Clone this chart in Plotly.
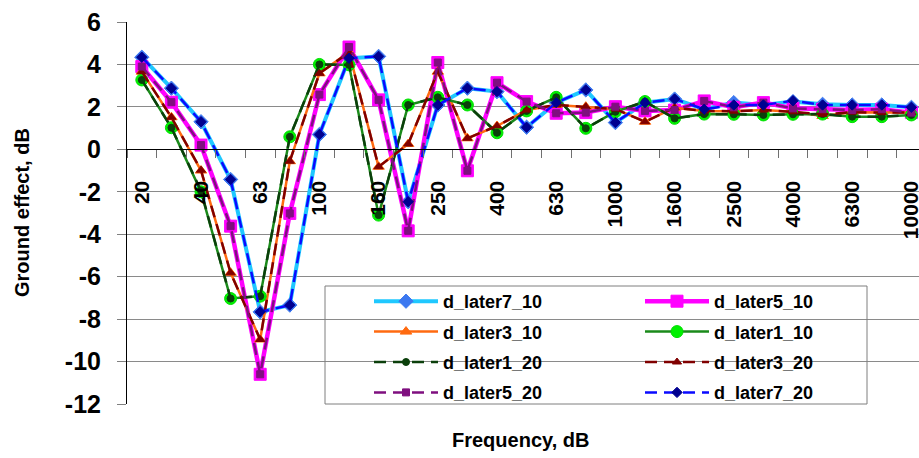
import plotly.graph_objects as go

categories = ["20", "31.5", "40", "50", "63", "80", "100", "125", "160", "200", "250",
              "315", "400", "500", "630", "800", "1000", "1250", "1600", "2000", "2500",
              "3150", "4000", "5000", "6300", "8000", "10000"]
shown_labels = ["20", "40", "63", "100", "160", "250", "400", "630", "1000", "1600",
                "2500", "4000", "6300", "10000"]
y_ticks = [6, 4, 2, 0, -2, -4, -6, -8, -10, -12]

d_later7_10 = [4.34, 2.88, 1.30, -1.42, -7.66, -7.34, 0.70, 4.29, 4.38, -2.47, 2.09, 2.88, 2.72,
               1.04, 2.20, 2.80, 1.26, 2.20, 2.37, 1.89, 2.20, 2.09, 2.25, 2.12, 2.09, 2.09, 1.98]
d_later5_10 = [3.90, 2.22, 0.20, -3.62, -10.60, -3.02, 2.58, 4.82, 2.33, -3.84, 4.09, -1.01, 3.14,
               2.25, 1.70, 1.73, 2.01, 1.81, 1.85, 2.28, 1.98, 2.20, 1.93, 1.89, 1.85, 1.89, 1.73]
d_later3_10 = [3.66, 1.51, -1.00, -5.82, -8.96, -0.56, 3.58, 4.58, -0.82, 0.25, 3.66, 0.52, 1.10,
               1.85, 2.09, 2.01, 1.90, 1.30, 1.96, 1.81, 1.80, 1.85, 1.77, 1.57, 1.75, 1.73, 1.73]
d_later1_10 = [3.27, 1.02, -2.00, -7.03, -6.92, 0.59, 4.00, 3.98, -3.10, 2.09, 2.45, 2.09, 0.78,
               1.81, 2.45, 0.99, 1.77, 2.25, 1.46, 1.66, 1.65, 1.62, 1.65, 1.66, 1.54, 1.54, 1.62]
d_later1_20 = [3.27, 1.02, -1.95, -7.03, -6.92, 0.59, 4.00, 3.98, -3.10, 2.09, 2.45, 2.09, 0.78,
               1.81, 2.45, 0.99, 1.77, 2.25, 1.46, 1.66, 1.65, 1.62, 1.65, 1.66, 1.54, 1.54, 1.62]
d_later3_20 = [3.66, 1.51, -0.98, -5.82, -8.96, -0.56, 3.58, 4.56, -0.82, 0.25, 3.66, 0.52, 1.10,
               1.85, 2.09, 2.01, 1.90, 1.30, 1.96, 1.81, 1.80, 1.85, 1.77, 1.65, 1.75, 1.73, 1.73]
d_later5_20 = [3.90, 2.22, 0.20, -3.62, -10.60, -3.02, 2.58, 4.82, 2.33, -3.84, 4.09, -1.01, 3.14,
               2.25, 1.70, 1.73, 2.01, 1.81, 1.85, 2.28, 1.98, 2.20, 1.93, 1.89, 1.85, 1.89, 1.73]
d_later7_20 = [4.34, 2.88, 1.30, -1.42, -7.66, -7.34, 0.70, 4.29, 4.38, -2.47, 2.09, 2.88, 2.72,
               1.04, 2.20, 2.80, 1.26, 2.20, 2.37, 1.89, 2.09, 2.09, 2.29, 2.09, 2.09, 2.09, 1.98]

series = [
    # name, values, line color, width, dash, symbol, marker size, marker color, marker line color, legend
    ("d_later7_10", d_later7_10, "#1FC8FF", 4, "solid", "diamond", 11, "#3C78F0", "#3C78F0", "legend"),
    ("d_later5_10", d_later5_10, "#FF00FF", 4.5, "solid", "square", 12, "#FF00FF", "#FF00FF", "legend2"),
    ("d_later3_10", d_later3_10, "#FF6A10", 2.5, "solid", "triangle-up", 10, "#FF6A10", "#FF6A10", "legend"),
    ("d_later1_10", d_later1_10, "#1A8A1A", 2.5, "solid", "circle", 12, "#00F000", "#00E000", "legend2"),
    ("d_later1_20", d_later1_20, "#0B3F0B", 2.5, "dash", "circle", 7, "#0B3F0B", "#0B3F0B", "legend"),
    ("d_later3_20", d_later3_20, "#800000", 2.5, "dash", "triangle-up", 8, "#800000", "#800000", "legend2"),
    ("d_later5_20", d_later5_20, "#7F0F7F", 2.5, "dash", "square", 7, "#7F0F7F", "#7F0F7F", "legend"),
    ("d_later7_20", d_later7_20, "#0A0AFF", 2.5, "dash", "diamond", 8, "#000090", "#000090", "legend2"),
]

fig = go.Figure()
for name, vals, lc, lw, dash, sym, ms, mc, mlc, leg in series:
    fig.add_trace(go.Scatter(
        x=categories, y=vals, name=name, mode="lines+markers",
        line=dict(color=lc, width=lw, dash=("12px,7px" if dash == "dash" else "solid")),
        marker=dict(symbol=sym, size=ms, color=mc, line=dict(color=mlc, width=1)),
        legend=leg, legendgroup=name,
    ))

W, H = 919, 458
ML, MR, MT, MB = 127, 0, 22, 54
pw = W - ML - MR
ph = H - MT - MB
cat_w = 29.6
xr = [-0.5, -0.5 + pw / cat_w]


def px_x(p):
    return (p - ML) / pw


def px_y(p):
    return (H - MB - p) / ph


font_family = "Liberation Sans, Arial, sans-serif"
legend_common = dict(
    xanchor="left", yanchor="top", bgcolor="rgba(0,0,0,0)", borderwidth=0,
    font=dict(family=font_family, size=18, color="black", weight="bold"),
    itemwidth=64, tracegroupgap=4, orientation="v", traceorder="grouped",
)

fig.update_layout(
    width=W, height=H,
    margin=dict(l=ML, r=MR, t=MT, b=MB, autoexpand=False),
    plot_bgcolor="white", paper_bgcolor="white",
    font=dict(family=font_family, color="black"),
    showlegend=True,
    legend=dict(x=px_x(369), y=px_y(283), **legend_common),
    legend2=dict(x=px_x(640), y=px_y(283), **legend_common),
    xaxis=dict(
        type="category", range=xr, tickson="boundaries",
        tickvals=categories,
        ticktext=[c if c in shown_labels else "" for c in categories],
        tickangle=-90, ticks="outside", ticklen=8, tickcolor="#707070",
        showline=True, linecolor="black", linewidth=1,
        showgrid=False, zeroline=False, automargin=False,
        anchor="free", position=12 / 18,
        tickfont=dict(family=font_family, size=21, color="black", weight="bold"),
        ticklabelstandoff=22,
    ),
    yaxis=dict(
        range=[-12, 6], tickvals=y_ticks, ticktext=[str(v) for v in y_ticks],
        showgrid=True, gridcolor="#8A8A8A", gridwidth=1,
        ticks="outside", ticklen=9, tickcolor="#808080",
        showline=True, linecolor="black", linewidth=1,
        zeroline=False, automargin=False,
        tickfont=dict(family=font_family, size=25, color="black", weight="bold"),
        ticklabelstandoff=11,
    ),
    shapes=[dict(
        type="rect", xref="paper", yref="paper",
        x0=px_x(325), x1=px_x(867), y0=px_y(404), y1=px_y(286),
        line=dict(color="#7F7F7F", width=1), fillcolor="rgba(0,0,0,0)", layer="above",
    )],
    annotations=[
        dict(text="Ground effect, dB", textangle=-90, xref="paper", yref="paper",
             x=px_x(22), y=0.5, xanchor="center", yanchor="middle", showarrow=False,
             font=dict(family=font_family, size=20, color="black", weight="bold")),
        dict(text="Frequency, dB", xref="paper", yref="paper",
             x=px_x(520), y=px_y(440), xanchor="center", yanchor="middle", showarrow=False,
             font=dict(family=font_family, size=20, color="black", weight="bold")),
    ],
)

fig.write_html("out.html",
               config={"displayModeBar": False},
               post_script="document.body.style.margin='0';document.body.style.overflow='hidden';")
